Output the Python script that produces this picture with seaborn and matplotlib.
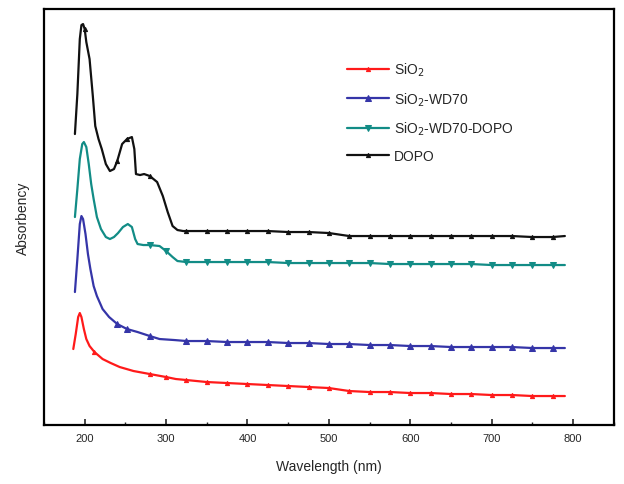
import numpy as np
import seaborn as sns
import matplotlib.pyplot as plt
from matplotlib.ticker import MultipleLocator

# spectra (arbitrary absorbance units, curves offset)
tail = [325, 350, 375, 400, 425, 450, 475, 500, 525, 550, 575, 600, 625, 650, 675, 700, 725, 750, 775, 790]

dopo_x = [188, 191, 194, 196, 198, 200, 202, 206, 210, 213, 217, 221, 226, 231, 236, 240, 246, 252, 258,
          261, 263, 268, 273, 280, 289, 296, 302, 308, 314, 321] + tail
dopo_y = [2.91, 3.31, 3.86, 4.00, 4.01, 3.96, 3.83, 3.66, 3.29, 2.99, 2.86, 2.76, 2.61, 2.54, 2.56, 2.64,
          2.81, 2.86, 2.88, 2.76, 2.51, 2.50, 2.51, 2.49, 2.43, 2.29, 2.13, 1.99, 1.95, 1.94,
          1.94, 1.94, 1.94, 1.94, 1.94, 1.93, 1.93, 1.92, 1.89, 1.89, 1.89, 1.89, 1.89, 1.89, 1.89,
          1.89, 1.89, 1.88, 1.88, 1.89]

wd70dopo_x = [188, 191, 194, 197, 199, 202, 205, 208, 211, 215, 220, 226, 231, 236, 241, 247, 253, 258,
              262, 265, 272, 280, 292, 300, 308, 314] + tail
wd70dopo_y = [2.08, 2.36, 2.66, 2.81, 2.83, 2.78, 2.61, 2.41, 2.26, 2.08, 1.96, 1.88, 1.86, 1.88, 1.92,
              1.98, 2.01, 1.98, 1.86, 1.81, 1.80, 1.80, 1.79, 1.74, 1.68, 1.64,
              1.63, 1.63, 1.63, 1.63, 1.63, 1.62, 1.62, 1.62, 1.62, 1.62, 1.61, 1.61, 1.61, 1.61, 1.61,
              1.60, 1.60, 1.60, 1.60, 1.60]

wd70_x = [188, 191, 194, 196, 198, 201, 204, 207, 211, 215, 222, 230, 240, 252, 265, 280, 292, 310] + tail
wd70_y = [1.33, 1.66, 2.01, 2.09, 2.06, 1.91, 1.71, 1.56, 1.39, 1.29, 1.16, 1.08, 1.01, 0.96, 0.93, 0.89,
          0.86, 0.85,
          0.84, 0.84, 0.83, 0.83, 0.83, 0.82, 0.82, 0.81, 0.81, 0.80, 0.80, 0.79, 0.79, 0.78, 0.78,
          0.78, 0.78, 0.77, 0.77, 0.77]

sio2_x = [186, 189, 192, 194, 196, 199, 202, 206, 212, 222, 232, 243, 260, 280, 300, 312] + tail
sio2_y = [0.76, 0.91, 1.08, 1.12, 1.08, 0.96, 0.86, 0.79, 0.73, 0.66, 0.62, 0.58, 0.54, 0.51, 0.48, 0.46,
          0.45, 0.43, 0.42, 0.41, 0.40, 0.39, 0.38, 0.37, 0.34, 0.33, 0.33, 0.32, 0.32, 0.31, 0.31,
          0.30, 0.30, 0.29, 0.29, 0.29]

series = [
    ("SiO$_2$", sio2_x, sio2_y, "#ff1a1a", "^", 3),
    ("SiO$_2$-WD70", wd70_x, wd70_y, "#3535a8", "^", 5),
    ("SiO$_2$-WD70-DOPO", wd70dopo_x, wd70dopo_y, "#128c86", "v", 5),
    ("DOPO", dopo_x, dopo_y, "#111111", "^", 3),
]

sns.set_style("white")
plt.rcParams['font.family'] = ['Liberation Sans', 'DejaVu Sans']

fig = plt.figure(figsize=(6.24, 4.85), dpi=100)
ax = fig.add_axes([0.0705, 0.1216, 0.913, 0.8577])

for name, xs, ys, col, mk, ms in series:
    xs = np.array(xs)
    marks = [i for i, v in enumerate(xs) if v % 25 == 0 or v in (212, 240, 252, 280)]
    sns.lineplot(x=xs, y=ys, ax=ax, color=col, lw=1.6, marker=mk, markersize=ms,
                 markevery=marks, markeredgecolor=col, label=name)

ax.set_xlim(150, 850)
ax.set_ylim(0, 4.16)
ax.xaxis.set_major_locator(MultipleLocator(100))
ax.xaxis.set_minor_locator(MultipleLocator(50))
ax.set_xticks([200, 300, 400, 500, 600, 700, 800])
ax.set_yticks([])
ax.tick_params(axis='x', which='major', direction='in', length=4, width=1.2, labelsize=8, pad=6)
ax.tick_params(axis='x', which='minor', direction='in', length=2.5, width=1.0)
ax.tick_params(axis='x', bottom=True, which='both')
for s in ax.spines.values():
    s.set_linewidth(1.6)
    s.set_color('black')

ax.set_xlabel("Wavelength (nm)", fontsize=10, labelpad=11)
ax.set_ylabel("Absorbency", fontsize=10, labelpad=10)

ax.legend(loc='upper left', bbox_to_anchor=(0.51, 0.905), frameon=False, fontsize=10,
          handlelength=3.0, labelspacing=0.85, handletextpad=0.35)

fig.savefig("out.png", dpi=100)
